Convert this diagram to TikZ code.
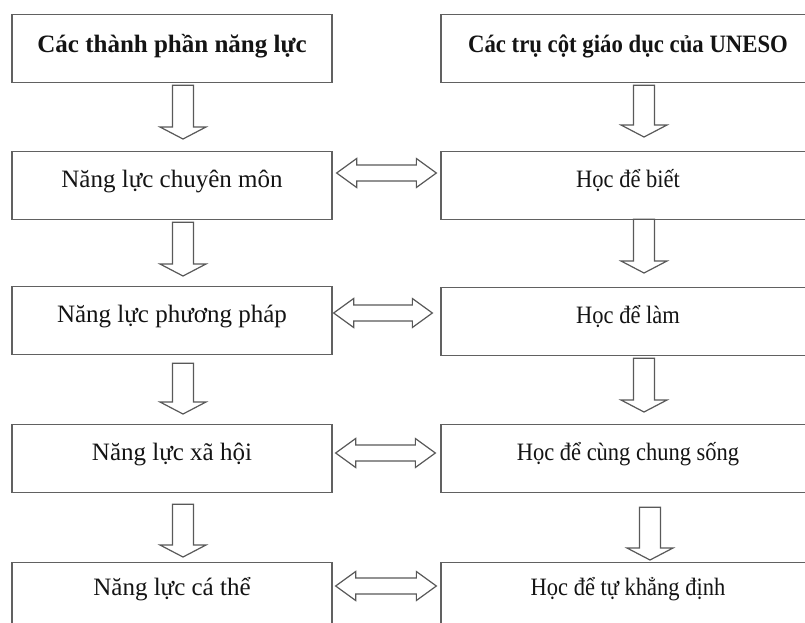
\documentclass[tikz,border=0pt]{standalone}
\usepackage{fontspec}
\usepackage{graphicx}
\setmainfont{Liberation Serif}
\usetikzlibrary{calc}
\tikzset{
  box/.style={draw=black!62, line width=1.3pt, inner xsep=0pt, inner ysep=0pt,
    text height=36pt, text depth=32pt, anchor=north, align=center,
    font=\fontsize{25pt}{30pt}\selectfont, text=black!92},
  lbox/.style={box, minimum width=320pt},
  rbox/.style={box, minimum width=374pt},
  title/.style={text height=38pt, text depth=30pt, font=\fontsize{25pt}{30pt}\selectfont\bfseries},
  lastrow/.style={text height=33pt, text depth=35pt},
  blk/.style={draw=black!65, line width=1.2pt, fill=white, line join=miter}
}
\newcommand\rtext[1]{\scalebox{0.9}[1]{#1}}
\newcommand\dnarrow[2]{%
  \path let \p1=(#1), \p2=(#2) in [blk]
    (\x1-10.5pt,\y1) -- (\x1-10.5pt,\y2+12pt) -- (\x1-23pt,\y2+12pt) -- (\x1,\y2)
    -- (\x1+23pt,\y2+12pt) -- (\x1+10.5pt,\y2+12pt) -- (\x1+10.5pt,\y1) -- cycle;}
\newcommand\dblarrow[2]{%
  \path let \p1=(#1), \p2=(#2) in [blk]
    (\x1,\y1) -- (\x1+20pt,\y1+14.5pt) -- (\x1+20pt,\y1+8pt) -- (\x2-20pt,\y1+8pt)
    -- (\x2-20pt,\y1+14.5pt) -- (\x2,\y1) -- (\x2-20pt,\y1-14.5pt) -- (\x2-20pt,\y1-8pt)
    -- (\x1+20pt,\y1-8pt) -- (\x1+20pt,\y1-14.5pt) -- cycle;}
\begin{document}
\begin{tikzpicture}[x=1pt,y=-1pt]
\clip (0,0) rectangle (805,623);
\fill[white] (0,0) rectangle (805,623);
% left column
\node[lbox,title] (L1) at (172,14) {Các thành phần năng lực};
\node[lbox] (L2) at (172,151) {Năng lực chuyên môn};
\node[lbox] (L3) at (172,286) {Năng lực phương pháp};
\node[lbox] (L4) at (172,424) {Năng lực xã hội};
\node[lbox,lastrow] (L5) at (172,562) {Năng lực cá thể};
% right column
\node[rbox,title] (R1) at (628,14) {\scalebox{0.91}[1]{Các trụ cột giáo dục của UNESO}};
\node[rbox] (R2) at (628,151) {\rtext{Học để biết}};
\node[rbox] (R3) at (628,287) {\rtext{Học để làm}};
\node[rbox] (R4) at (628,424) {\rtext{Học để cùng chung sống}};
\node[rbox,lastrow] (R5) at (628,562) {\rtext{Học để tự khẳng định}};
% down arrows left
\coordinate (a1s) at ($(L1.south)+(11,2)$);  \coordinate (a1e) at ($(L2.north)+(11,-12)$);
\coordinate (a2s) at ($(L2.south)+(11,2)$);  \coordinate (a2e) at ($(L3.north)+(11,-10)$);
\coordinate (a3s) at ($(L3.south)+(11,8)$);  \coordinate (a3e) at ($(L4.north)+(11,-10)$);
\coordinate (a4s) at ($(L4.south)+(11,11)$); \coordinate (a4e) at ($(L5.north)+(11,-5)$);
\dnarrow{a1s}{a1e}
\dnarrow{a2s}{a2e}
\dnarrow{a3s}{a3e}
\dnarrow{a4s}{a4e}
% down arrows right
\coordinate (b1s) at ($(R1.south)+(16,2)$);  \coordinate (b1e) at ($(R2.north)+(16,-14)$);
\coordinate (b2s) at ($(R2.south)+(16,-1)$); \coordinate (b2e) at ($(R3.north)+(16,-14)$);
\coordinate (b3s) at ($(R3.south)+(16,2)$);  \coordinate (b3e) at ($(R4.north)+(16,-12)$);
\coordinate (b4s) at ($(R4.south)+(22,14)$); \coordinate (b4e) at ($(R5.north)+(22,-2)$);
\dnarrow{b1s}{b1e}
\dnarrow{b2s}{b2e}
\dnarrow{b3s}{b3e}
\dnarrow{b4s}{b4e}
% double arrows
\coordinate (c2l) at ($(L2.north east)+(4,22)$); \coordinate (c2r) at ($(R2.north west)+(-4,22)$);
\coordinate (c3l) at ($(L3.north east)+(1,27)$); \coordinate (c3r) at ($(R3.north west)+(-8,27)$);
\coordinate (c4l) at ($(L4.north east)+(3,29)$); \coordinate (c4r) at ($(R4.north west)+(-5,29)$);
\coordinate (c5l) at ($(L5.north east)+(3,24)$); \coordinate (c5r) at ($(R5.north west)+(-4,24)$);
\dblarrow{c2l}{c2r}
\dblarrow{c3l}{c3r}
\dblarrow{c4l}{c4r}
\dblarrow{c5l}{c5r}
\end{tikzpicture}
\end{document}
